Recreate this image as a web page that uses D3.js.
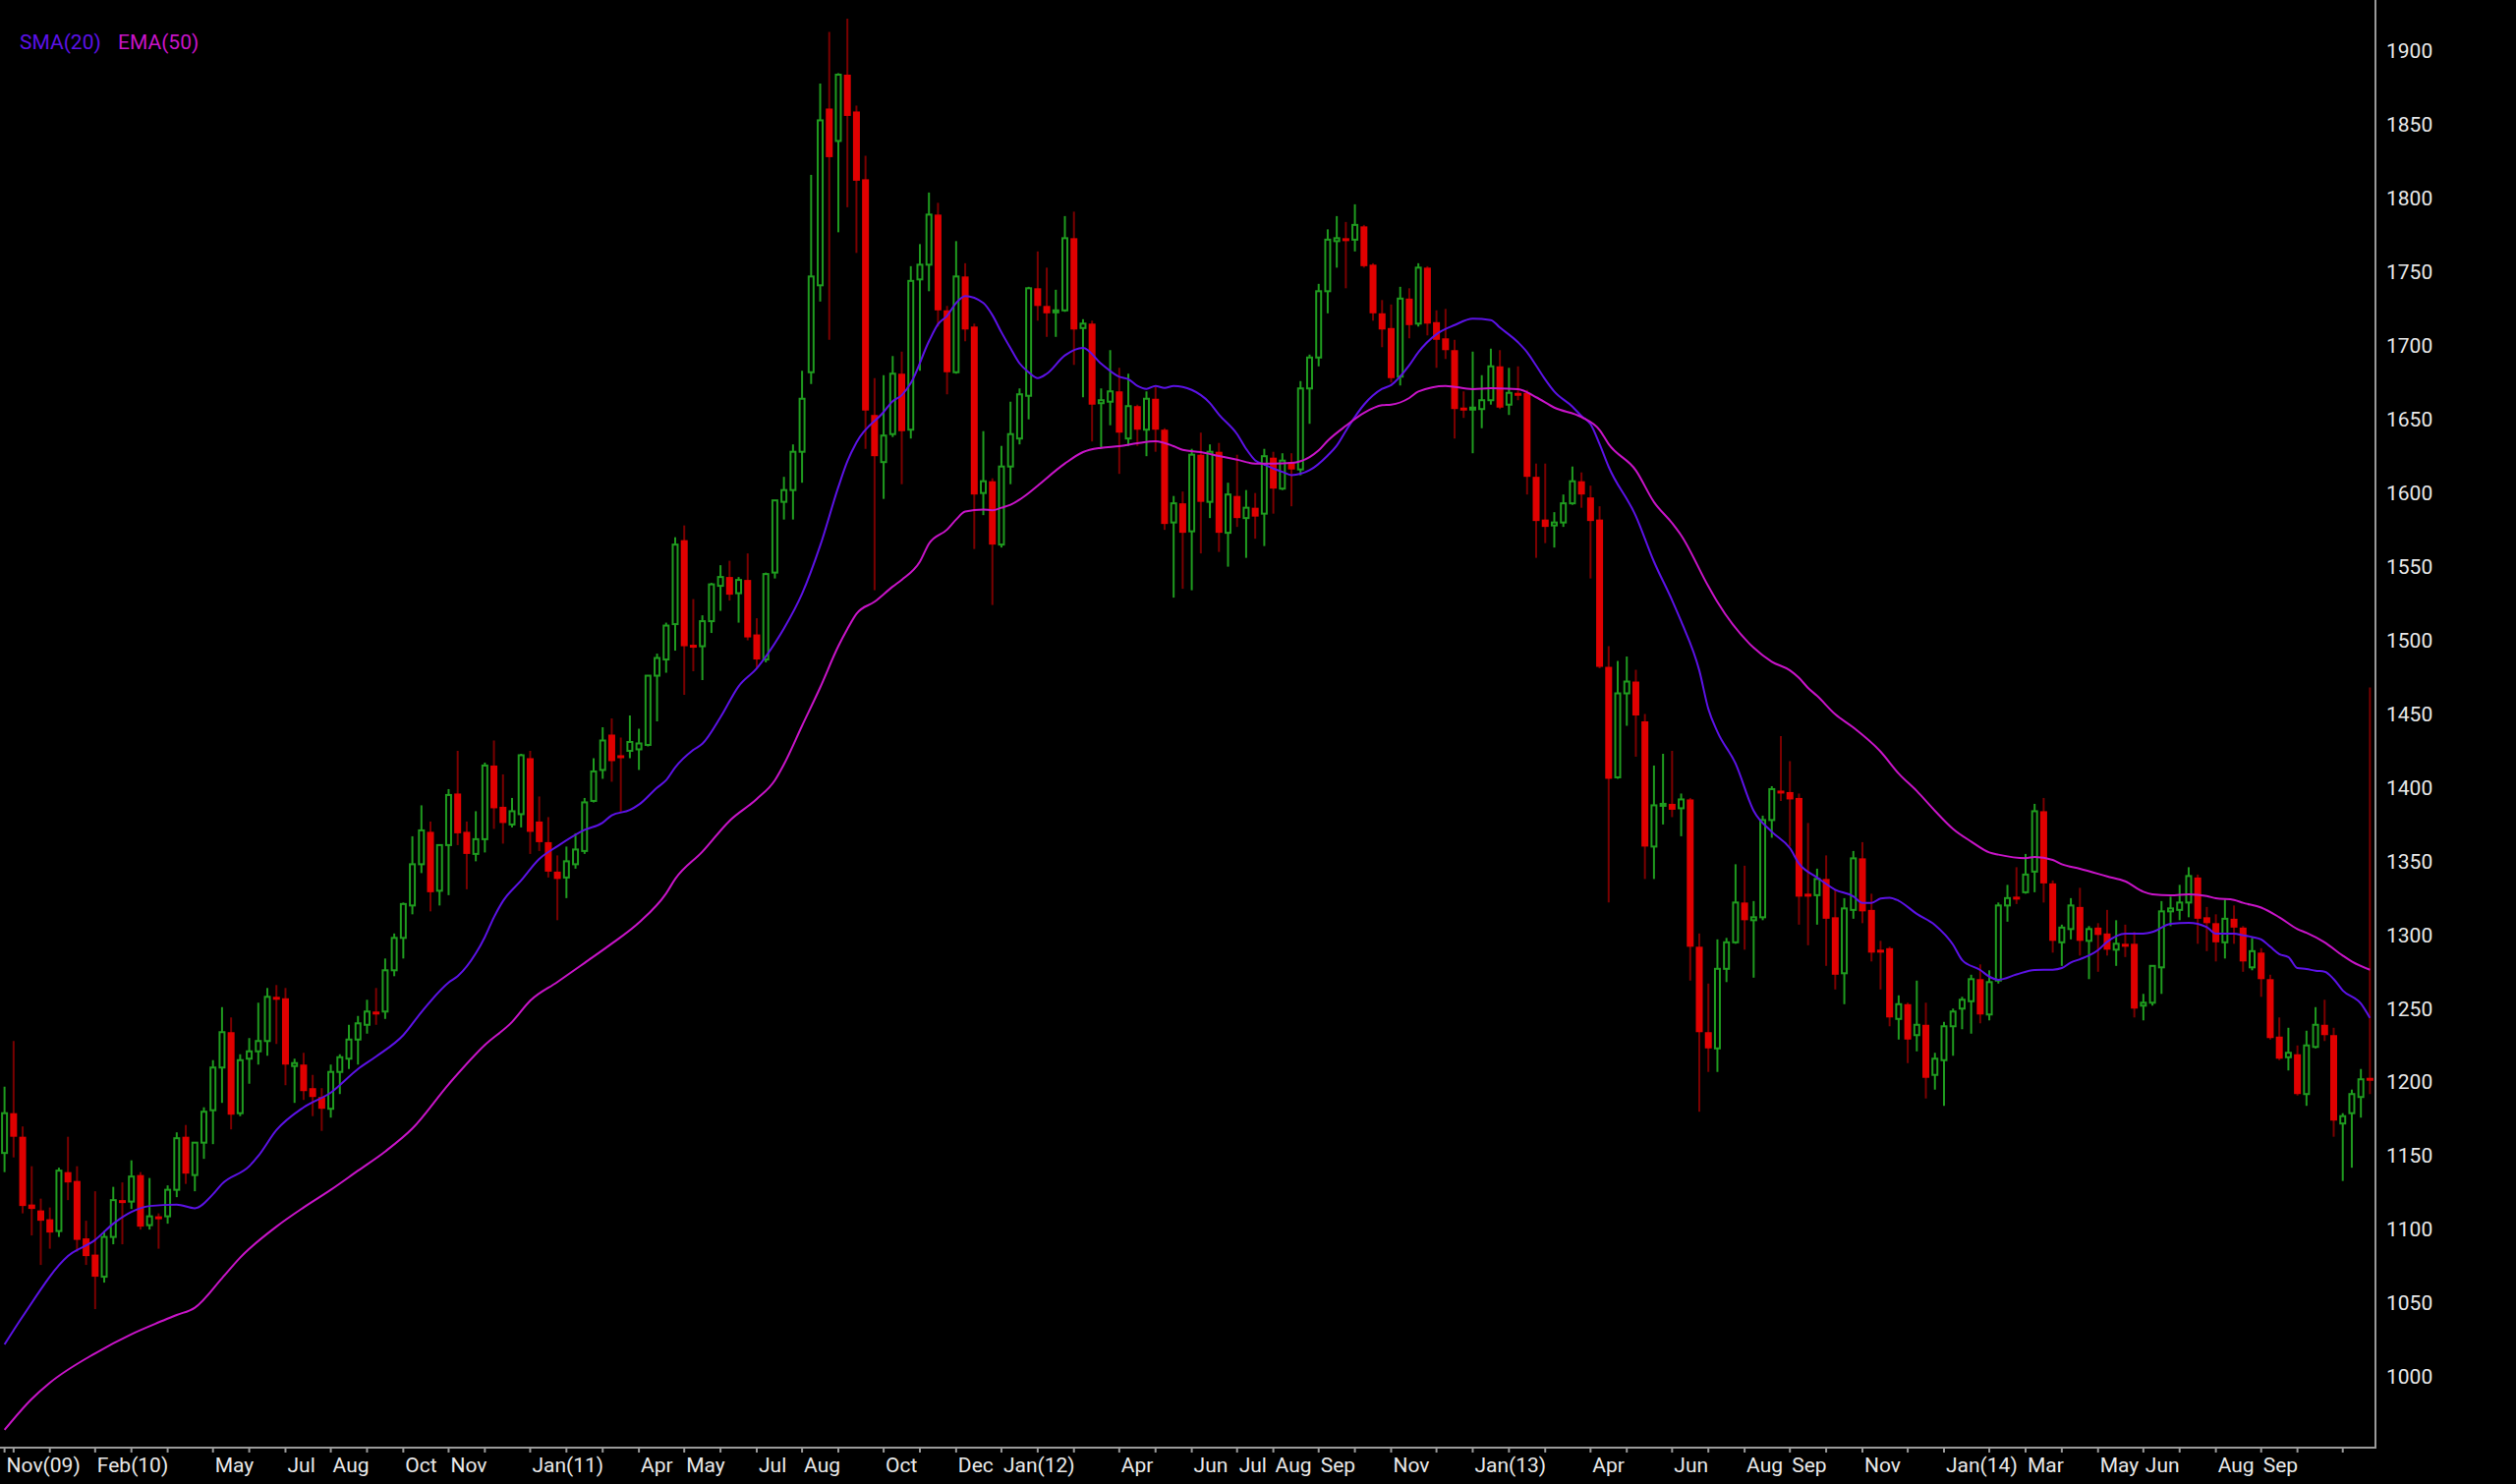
<!DOCTYPE html>
<html><head><meta charset="utf-8">
<script src="https://cdnjs.cloudflare.com/ajax/libs/d3/7.8.5/d3.min.js"></script>
<style>html,body{margin:0;padding:0;background:#000;overflow:hidden}svg{display:block}</style>
</head><body>
<svg id="chart" width="2560" height="1510"></svg>
<script>
// Weekly OHLC (first bar: week ending 27 Nov 2009)
const opens = [1152,1179,1163,1117,1113,1107,1099,1139,1133,1094,1083,1068,1095,1120,1119,1137,1103,1109,1109,1127,
1163,1137,1159,1181,1210,1234,1179,1216,1221,1228,1258,1257,1211,1212,1196,1190,1182,1207,1216,1229,
1239,1248,1248,1276,1298,1320,1348,1370,1330,1361,1396,1370,1355,1365,1415,1387,1375,1382,1420,1377,
1363,1343,1339,1348,1357,1391,1412,1436,1422,1425,1426,1429,1476,1487,1511,1568,1497,1496,1513,1537,
1543,1532,1541,1504,1487,1546,1594,1602,1628,1682,1741,1861,1839,1884,1859,1813,1653,1621,1640,1681,
1643,1745,1755,1789,1724,1682,1747,1713,1600,1608,1565,1618,1637,1666,1739,1727,1723,1724,1773,1712,
1715,1661,1662,1669,1637,1659,1643,1664,1643,1580,1593,1574,1626,1594,1628,1573,1598,1583,1590,1586,
1624,1603,1621,1616,1671,1692,1737,1771,1773,1772,1781,1755,1722,1712,1679,1732,1715,1753,1716,1705,
1697,1658,1657,1657,1663,1686,1660,1668,1668,1611,1582,1578,1580,1593,1608,1597,1582,1482,1407,1464,
1472,1445,1360,1388,1389,1386,1392,1292,1234,1223,1277,1295,1322,1310,1312,1378,1398,1397,1393,1328,
1327,1338,1312,1274,1317,1352,1317,1290,1291,1243,1253,1232,1239,1205,1215,1238,1250,1255,1270,1246,
1269,1320,1326,1329,1343,1384,1335,1295,1304,1319,1296,1305,1301,1290,1294,1294,1252,1254,1278,1316,
1317,1322,1339,1312,1308,1295,1311,1305,1278,1288,1270,1231,1217,1219,1192,1224,1239,1232,1172,1179,
1190,1203];
const highs = [1197,1228,1170,1143,1121,1115,1142,1163,1143,1106,1126,1099,1129,1132,1147,1139,1135,1111,1130,1166,
1171,1159,1183,1215,1251,1244,1219,1230,1254,1264,1266,1264,1216,1220,1205,1196,1212,1219,1239,1245,
1256,1264,1284,1301,1322,1367,1388,1377,1361,1399,1425,1377,1384,1417,1432,1409,1393,1423,1425,1394,
1380,1354,1360,1369,1393,1420,1441,1447,1434,1449,1440,1476,1491,1512,1570,1578,1528,1517,1539,1551,
1554,1543,1559,1515,1546,1595,1611,1633,1683,1816,1878,1913,1885,1922,1863,1829,1678,1680,1693,1696,
1754,1769,1804,1797,1727,1771,1756,1715,1642,1610,1632,1662,1671,1740,1764,1753,1738,1788,1791,1718,
1717,1671,1697,1685,1681,1660,1669,1672,1644,1598,1601,1630,1641,1633,1634,1607,1626,1602,1600,1630,
1628,1627,1627,1676,1694,1742,1779,1788,1784,1796,1782,1756,1731,1728,1740,1739,1756,1754,1724,1725,
1704,1669,1696,1680,1698,1697,1685,1686,1670,1620,1620,1587,1599,1618,1614,1605,1591,1496,1486,1489,
1480,1450,1415,1423,1425,1396,1393,1301,1267,1297,1298,1348,1347,1323,1381,1401,1435,1418,1396,1376,
1345,1354,1331,1325,1357,1363,1328,1296,1292,1259,1254,1269,1254,1220,1241,1250,1258,1273,1280,1276,
1322,1334,1346,1355,1389,1393,1337,1307,1325,1332,1306,1308,1317,1310,1307,1302,1260,1279,1323,1326,
1334,1346,1341,1319,1314,1324,1320,1306,1298,1291,1273,1244,1237,1225,1235,1251,1256,1237,1179,1195,
1209,1468];
const lows = [1139,1149,1111,1096,1076,1087,1095,1120,1085,1076,1046,1064,1090,1090,1114,1100,1100,1087,1104,1122,
1131,1126,1148,1158,1186,1168,1177,1199,1212,1218,1226,1198,1186,1188,1177,1167,1176,1192,1209,1212,
1233,1239,1243,1272,1284,1314,1342,1316,1320,1327,1361,1331,1350,1356,1372,1362,1373,1373,1355,1357,
1339,1310,1325,1345,1355,1390,1406,1404,1383,1420,1412,1428,1445,1478,1493,1463,1479,1473,1505,1520,
1527,1512,1500,1481,1485,1542,1582,1582,1607,1674,1730,1704,1777,1794,1763,1630,1534,1596,1638,1606,
1637,1683,1737,1713,1667,1681,1703,1562,1585,1524,1563,1606,1633,1650,1717,1706,1706,1723,1687,1665,
1635,1630,1646,1613,1632,1632,1625,1628,1575,1529,1535,1534,1559,1583,1560,1550,1577,1556,1569,1564,
1586,1602,1591,1612,1647,1686,1722,1753,1739,1764,1753,1717,1699,1675,1673,1705,1713,1707,1685,1691,
1637,1651,1627,1644,1660,1657,1653,1663,1599,1556,1566,1563,1577,1592,1590,1542,1481,1322,1406,1442,
1421,1338,1338,1375,1380,1367,1269,1180,1207,1207,1268,1294,1290,1271,1310,1366,1391,1360,1307,1293,
1307,1279,1263,1253,1311,1308,1282,1263,1238,1229,1213,1221,1189,1195,1184,1218,1236,1233,1240,1242,
1267,1309,1321,1328,1329,1322,1288,1279,1297,1286,1270,1275,1286,1279,1285,1244,1242,1252,1260,1306,
1310,1312,1294,1289,1282,1284,1294,1275,1276,1258,1229,1215,1208,1191,1184,1223,1228,1163,1133,1142,
1176,1192];
const closes = [1179,1163,1116,1114,1106,1098,1140,1132,1093,1082,1068,1095,1120,1119,1136,1102,1109,1108,1127,1162,
1138,1159,1180,1210,1234,1178,1215,1221,1228,1258,1256,1212,1213,1194,1190,1182,1207,1217,1229,1240,
1248,1247,1276,1298,1321,1348,1371,1329,1361,1395,1369,1355,1365,1415,1386,1376,1384,1422,1370,1363,
1343,1338,1350,1358,1390,1411,1432,1418,1420,1431,1430,1476,1488,1510,1565,1496,1496,1513,1538,1543,
1531,1541,1502,1487,1545,1595,1602,1628,1664,1747,1853,1828,1884,1856,1812,1656,1625,1639,1681,1642,
1744,1755,1789,1724,1682,1747,1711,1599,1608,1565,1618,1640,1667,1739,1727,1722,1724,1773,1711,1715,
1660,1663,1669,1641,1659,1643,1664,1643,1579,1593,1573,1626,1594,1628,1573,1599,1583,1590,1584,1625,
1603,1622,1616,1671,1692,1737,1772,1773,1772,1782,1754,1722,1711,1678,1732,1714,1753,1715,1704,1697,
1657,1657,1658,1663,1686,1658,1668,1667,1611,1581,1577,1580,1593,1608,1599,1581,1482,1406,1464,1472,
1449,1360,1388,1389,1385,1392,1292,1234,1223,1277,1295,1322,1310,1312,1378,1399,1397,1392,1326,1327,
1338,1311,1273,1318,1352,1316,1288,1288,1244,1253,1229,1239,1203,1216,1238,1248,1256,1270,1246,1268,
1320,1325,1325,1341,1384,1335,1296,1305,1320,1296,1304,1300,1290,1294,1293,1250,1254,1279,1316,1318,
1322,1340,1311,1308,1295,1311,1305,1282,1289,1270,1230,1216,1220,1192,1225,1239,1232,1174,1177,1192,
1202,1201];

// SMA(20): bar number / value
const smaWeek = [0,2,7,10,12,14,16,19,21,23,24,27,28,30,33,36,39,41,44,46,49,50,52,53,54,55,57,59,61,64,66,67,69,70,72,73,74,76,77,79,81,83,85,86,88,90,92,93,94,97,98,99,100,102,103,104,105,106,108,109,110,111,112,113,114,115,117,119,121,123,124,125,126,127,128,129,131,133,134,136,137,138,139,140,141,142,144,146,147,148,150,152,153,155,156,158,160,162,164,165,167,168,169,170,171,173,174,175,176,177,180,182,184,185,187,188,189,191,193,195,197,198,200,202,204,205,206,207,208,209,211,213,215,216,218,219,220,222,224,226,227,228,229,231,232,234,236,237,239,241,243,244,246,247,248,249,250,251,252,253,254,255,256,257,258,260,261];
const smaValue = [1022,1041,1082,1093,1104,1112,1116,1117,1114.5,1124,1131,1143,1150,1167.5,1183,1193,1209,1217.5,1232,1247.6,1267.7,1272,1287.5,1298.6,1312,1323,1337,1351.6,1360.2,1371.3,1376.2,1381.2,1384.8,1388.5,1400,1405,1413.7,1425.6,1429.8,1447.8,1468.8,1481,1498,1508,1531.6,1564.3,1604,1621.5,1634.3,1655,1662.3,1666.4,1674.6,1703,1714.6,1720.3,1729,1733.7,1729,1720.8,1709.1,1698.3,1688,1682,1678,1681,1693.4,1698.5,1687.8,1678.9,1677.3,1672.7,1670.7,1672.7,1671.3,1672.7,1670,1661.1,1653.3,1640,1630,1622.2,1619.3,1616.6,1614.4,1612.2,1615.5,1625.5,1632.2,1642.2,1660,1670.7,1673.3,1686.7,1695.6,1707.8,1714,1718.3,1717.4,1712.3,1702.3,1695.6,1686.5,1677.1,1668.9,1658.7,1652.3,1646.8,1633.2,1617.8,1584.4,1553.4,1527.2,1512.9,1479.6,1453.4,1437.9,1416.4,1384.3,1370,1358.9,1348.5,1339,1330.7,1326.2,1321.7,1321.7,1324.7,1325.3,1323.2,1314.3,1306.8,1293.4,1283,1276.2,1271.7,1269.6,1273.2,1276.2,1276.4,1277.5,1281.3,1283.5,1289.7,1295.3,1300.9,1300.9,1302,1307.5,1308.2,1305.3,1300.9,1300.9,1299.8,1298.6,1297,1292,1287,1285,1277.5,1276.9,1275.7,1275.1,1270,1262.3,1253.4,1243.7];

// EMA(50): bar number / value
const emaWeek = [0,3,5,10,14,17,19,21,24,26,30,33,36,39,42,45,49,53,56,58,61,64,67,70,73,74,77,80,83,85,86,88,90,92,93,94,96,98,99,101,102,104,105,106,108,109,110,111,112,113,114,117,119,121,123,125,127,129,130,132,134,136,138,140,142,144,145,146,148,150,152,153,155,156,159,162,164,167,169,171,174,176,177,180,182,184,185,188,189,193,195,197,198,199,200,202,204,207,209,211,213,215,217,219,220,223,224,226,227,229,232,234,236,237,239,241,243,244,246,247,249,251,253,254,256,258,259,261];
const emaValue = [964,985,996,1016,1029,1037,1042,1047,1067,1081,1102,1115,1127,1140,1153,1168.6,1198.6,1225.3,1240.9,1255.3,1268,1281,1294.1,1308.4,1328.2,1338,1356.5,1377.5,1392.3,1405,1415.8,1442,1468,1496,1507.7,1518,1526.2,1536.5,1541.1,1553.4,1565.6,1575.2,1582,1587.4,1588.8,1588.3,1590,1592,1595.5,1600,1605,1620,1627.8,1630.7,1631.8,1633.8,1635.1,1631.8,1629.3,1627.8,1625.1,1622.6,1620,1620,1620.4,1624.4,1628.9,1635.5,1645.6,1654.4,1659.6,1660,1664.5,1668.9,1672.7,1670.5,1671.1,1670.5,1665,1658,1651.6,1642.8,1633.2,1615.4,1593.9,1579.6,1571.3,1536.7,1526,1495,1485.5,1479.6,1474.5,1467.7,1462.3,1449.8,1440.8,1424.5,1409.6,1397.7,1384.3,1372,1363.4,1356,1354.5,1352.1,1353,1350.9,1348,1344.9,1339.8,1336.4,1329.3,1327.6,1326.9,1327.6,1326.4,1324.9,1323.8,1321.8,1318.6,1312,1304,1301.5,1295,1286,1282,1276.4];

// Axis labels
const xTickWeek = [0,10,23,31,36,44,49,58,70,75,83,88,97,105,110,123,131,136,140,145,153,162,175,184,192,197,205,214,223,231,236,244,249];
const xTickLabel = ["Nov(09)","Feb(10)","May","Jul","Aug","Oct","Nov","Jan(11)","Apr","May","Jul","Aug","Oct","Dec","Jan(12)","Apr","Jun","Jul","Aug","Sep","Nov","Jan(13)","Apr","Jun","Aug","Sep","Nov","Jan(14)","Mar","May","Jun","Aug","Sep"];
const yTickValues = [1000,1050,1100,1150,1200,1250,1300,1350,1400,1450,1500,1550,1600,1650,1700,1750,1800,1850,1900];
const legendNames = ["SMA(20)","EMA(50)"];

const W = 2560, H = 1510, plotRight = 2417, plotBottom = 1473;
const GREEN = '#1f9b1f', RED = '#e00000', DRED = '#7a0000', AXIS = '#9a9a9a';
const SMA_C = '#5c12e6', EMA_C = '#c814c8';
const FONT = 'Roboto, "Noto Sans", sans-serif';

const svg = d3.select('#chart');
svg.append('rect').attr('width', W).attr('height', H).attr('fill', '#000');

const n = opens.length;
const x = d3.scaleBand().domain(d3.range(n)).range([0, 2416]).paddingInner(0.24).paddingOuter(0.12);
const y = d3.scaleLinear().domain([1000, 1900]).range([1401, 52]);
const bw = x.bandwidth();
const cx = i => x(i) + bw / 2;

svg.append('clipPath').attr('id', 'plot').append('rect').attr('x', 0).attr('y', 0).attr('width', plotRight).attr('height', plotBottom);
const plot = svg.append('g').attr('clip-path', 'url(#plot)');

const bars = d3.range(n).map(i => ({ i, o: opens[i], h: highs[i], l: lows[i], c: closes[i], up: closes[i] >= opens[i] }));

// wicks
plot.append('g').selectAll('line').data(bars).join('line')
  .attr('x1', d => cx(d.i)).attr('x2', d => cx(d.i))
  .attr('y1', d => y(d.h)).attr('y2', d => y(d.l))
  .attr('stroke', d => d.up ? GREEN : DRED).attr('stroke-width', 2);

// bodies
plot.append('g').selectAll('rect').data(bars.filter(d => d.up)).join('rect')
  .attr('x', d => cx(d.i) - bw / 2 + 1).attr('width', bw - 2)
  .attr('y', d => y(d.c)).attr('height', d => Math.max(y(d.o) - y(d.c), 2))
  .attr('fill', '#000').attr('stroke', GREEN).attr('stroke-width', 2);
plot.append('g').selectAll('rect').data(bars.filter(d => !d.up)).join('rect')
  .attr('x', d => cx(d.i) - bw / 2).attr('width', bw)
  .attr('y', d => y(d.o)).attr('height', d => Math.max(y(d.c) - y(d.o), 3))
  .attr('fill', RED);

// moving averages
const line = d3.line().x(d => cx(d[0])).y(d => y(d[1])).curve(d3.curveMonotoneX);
plot.append('path').datum(smaWeek.map((w, k) => [w, smaValue[k]]))
  .attr('d', line).attr('fill', 'none').attr('stroke', SMA_C).attr('stroke-width', 2);
plot.append('path').datum(emaWeek.map((w, k) => [w, emaValue[k]]))
  .attr('d', line).attr('fill', 'none').attr('stroke', EMA_C).attr('stroke-width', 2);

// legend
const leg = svg.append('g').attr('font-family', FONT).attr('font-size', 21);
leg.append('text').attr('x', 20).attr('y', 50).attr('fill', SMA_C).text(legendNames[0]);
leg.append('text').attr('x', 120).attr('y', 50).attr('fill', EMA_C).text(legendNames[1]);

// right axis
const yAxis = svg.append('g').attr('transform', `translate(${plotRight},0)`)
  .call(d3.axisRight(y).tickValues(yTickValues).tickSize(0).tickPadding(11).tickFormat(d3.format('d')));
yAxis.select('.domain').remove();
yAxis.selectAll('text').attr('font-family', FONT).attr('font-size', 21).attr('fill', '#e8e8e8');

// month ticks (first bar of each month)
const firstDay = new Date(2009, 10, 27);
const dates = d3.range(n).map(i => d3.timeDay.offset(firstDay, 7 * i));
const monthStarts = d3.range(n).filter(i => i === 0 || dates[i].getMonth() !== dates[i - 1].getMonth());
svg.append('g').selectAll('line').data(monthStarts).join('line')
  .attr('x1', d => cx(d)).attr('x2', d => cx(d))
  .attr('y1', plotBottom).attr('y2', plotBottom + 5)
  .attr('stroke', AXIS).attr('stroke-width', 2);

const xl = svg.append('g').attr('font-family', FONT).attr('font-size', 21).attr('fill', '#e8e8e8');
xl.selectAll('text').data(xTickWeek).join('text')
  .attr('x', d => cx(d) + 2).attr('y', 1498).text((d, k) => xTickLabel[k]);

// axis lines
svg.append('line').attr('x1', 0).attr('x2', plotRight + 1).attr('y1', plotBottom).attr('y2', plotBottom)
  .attr('stroke', AXIS).attr('stroke-width', 2);
svg.append('line').attr('x1', plotRight).attr('x2', plotRight).attr('y1', 0).attr('y2', plotBottom)
  .attr('stroke', AXIS).attr('stroke-width', 2);
</script>
</body></html>
